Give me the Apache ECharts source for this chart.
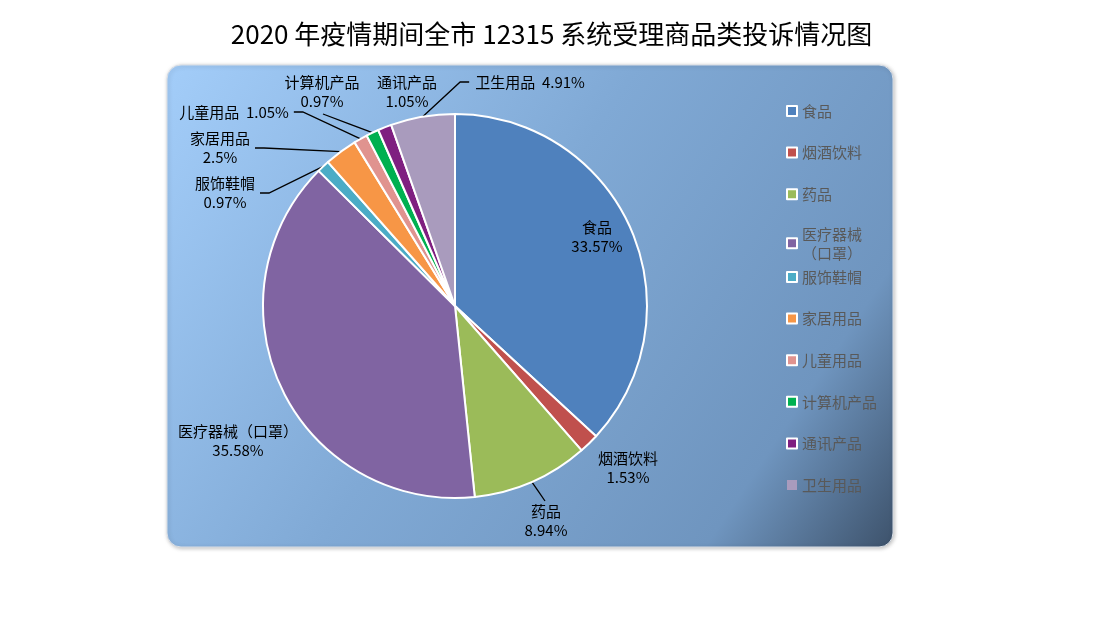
<!DOCTYPE html>
<html lang="zh-CN">
<head>
    <meta charset="UTF-8">
    <title>2020年疫情期间全市12315系统受理商品类投诉情况图</title>
    <script src="https://cdn.jsdelivr.net/npm/echarts@6/dist/echarts.min.js"></script>
    <style>
        * {
            margin: 0;
            padding: 0;
        }

        body {
            background: #fff;
        }

        #chart-container {
            width: 1103px;
            height: 617px;
        }
    </style>
</head>
<body>
<div id="chart-container"></div>

<script>
    // 数据
    let categories = ['食品', '烟酒饮料', '药品', '医疗器械（口罩）', '服饰鞋帽', '家居用品', '儿童用品', '计算机产品', '通讯产品', '卫生用品'];
    let shares = [33.57, 1.53, 8.94, 35.58, 0.97, 2.5, 1.05, 0.97, 1.05, 4.91];
    let colors = ['#4f81bd', '#c0504d', '#9bbb59', '#8064a2', '#4bacc6', '#f79646', '#e0938f', '#00b050', '#7f1f80', '#a99bbd'];

    // 标签摆放：中心点 x, y，引线接在标签哪一侧
    let labelPlace = {
        '食品': [597, 237, ''],
        '烟酒饮料': [628, 468, ''],
        '药品': [546, 521, 'top'],
        '医疗器械（口罩）': [238, 441, ''],
        '服饰鞋帽': [225, 193, 'right'],
        '家居用品': [220, 148, 'right'],
        '儿童用品': [234, 112, 'right'],
        '计算机产品': [322, 92, 'bottom'],
        '通讯产品': [407, 92, ''],
        '卫生用品': [530, 82, 'left']
    };
    let oneLineLabels = ['儿童用品', '卫生用品'];

    let chartDom = document.getElementById('chart-container');
    let myChart = echarts.init(chartDom);

    let pieData = categories.map(function (name, i) {
        let item = {name: name, value: shares[i], itemStyle: {color: colors[i]}};
        if (name === '食品') {
            item.label = {position: 'inside'};
        }
        if (!labelPlace[name][2]) {
            item.labelLine = {show: false};
        }
        return item;
    });

    function legendItems(names) {
        return names.map(function (name) {
            let item = {name: name};
            if (name === '医疗器械（口罩）') {
                item.textStyle = {height: 19};
            }
            if (name === '卫生用品') {
                item.itemStyle = {borderWidth: 0};
            }
            return item;
        });
    }

    let legendBase = {
        orient: 'vertical',
        left: 786,
        padding: 0,
        itemWidth: 10,
        itemHeight: 10,
        itemGap: 22.6,
        icon: 'rect',
        selectedMode: false,
        formatter: function (name) {
            return name === '医疗器械（口罩）' ? '医疗器械\n（口罩）' : name;
        },
        textStyle: {
            color: '#595959',
            fontSize: 15,
            lineHeight: 19,
            fontFamily: 'Noto Sans CJK SC'
        }
    };

    let option = {
        title: {
            text: '2020 年疫情期间全市 12315 系统受理商品类投诉情况图',
            left: 'center',
            top: 16,
            textStyle: {
                color: '#000',
                fontSize: 26,
                fontWeight: 'normal',
                fontFamily: 'Noto Sans CJK SC'
            }
        },
        graphic: [{
            type: 'rect',
            z: 0,
            shape: {x: 167, y: 65, width: 726, height: 482, r: 14},
            style: {
                fill: new echarts.graphic.LinearGradient(0, 0, 1, 1, [
                    {offset: 0, color: '#a3cdf9'},
                    {offset: 0.45, color: '#80a9d5'},
                    {offset: 0.82, color: '#6f95bf'},
                    {offset: 1, color: '#3d526b'}
                ]),
                stroke: '#d8dee6',
                lineWidth: 1,
                shadowBlur: 4,
                shadowOffsetX: 1,
                shadowOffsetY: 1,
                shadowColor: 'rgba(0,0,0,0.25)'
            }
        }],
        legend: [
            Object.assign({}, legendBase, {top: 101.5, data: legendItems(categories.slice(0, 4))}),
            Object.assign({}, legendBase, {top: 267.5, data: legendItems(categories.slice(4))})
        ],
        series: [{
            type: 'pie',
            center: [455, 306],
            radius: 192,
            startAngle: 90,
            avoidLabelOverlap: false,
            data: pieData,
            itemStyle: {
                borderColor: '#fff',
                borderWidth: 2
            },
            label: {
                show: true,
                position: 'outside',
                color: '#000',
                fontSize: 15,
                lineHeight: 19,
                fontFamily: 'Noto Sans CJK SC',
                formatter: function (p) {
                    if (oneLineLabels.indexOf(p.name) >= 0) {
                        return p.name + '  ' + p.value + '%';
                    }
                    return p.name + '\n' + p.value + '%';
                }
            },
            labelLine: {
                show: true,
                length: 10,
                length2: 10,
                lineStyle: {color: '#000', width: 1.3}
            },
            labelLayout: function (params) {
                let p = labelPlace[categories[params.dataIndex]];
                let w = params.labelRect.width;
                let h = params.labelRect.height;
                let res = {x: p[0], y: p[1], align: 'center', verticalAlign: 'middle'};
                let pts = params.labelLinePoints;
                if (pts && p[2]) {
                    let start = pts[0];
                    let end, elbow;
                    if (p[2] === 'right') {
                        end = [p[0] + w / 2 + 5, p[1]];
                        elbow = [end[0] + 9, end[1]];
                    } else if (p[2] === 'left') {
                        end = [p[0] - w / 2 - 6, p[1]];
                        elbow = [end[0] - 9, end[1]];
                    } else if (p[2] === 'top') {
                        end = [p[0] - 1, p[1] - h / 2 - 1];
                        elbow = [(start[0] + end[0]) / 2, (start[1] + end[1]) / 2];
                    } else {
                        end = [p[0] + 1, p[1] + h / 2 + 3];
                        elbow = [(start[0] + end[0]) / 2, (start[1] + end[1]) / 2];
                    }
                    res.labelLinePoints = [start, elbow, end];
                }
                return res;
            }
        }]
    };

    option && myChart.setOption(option);
</script>
</body>
</html>
